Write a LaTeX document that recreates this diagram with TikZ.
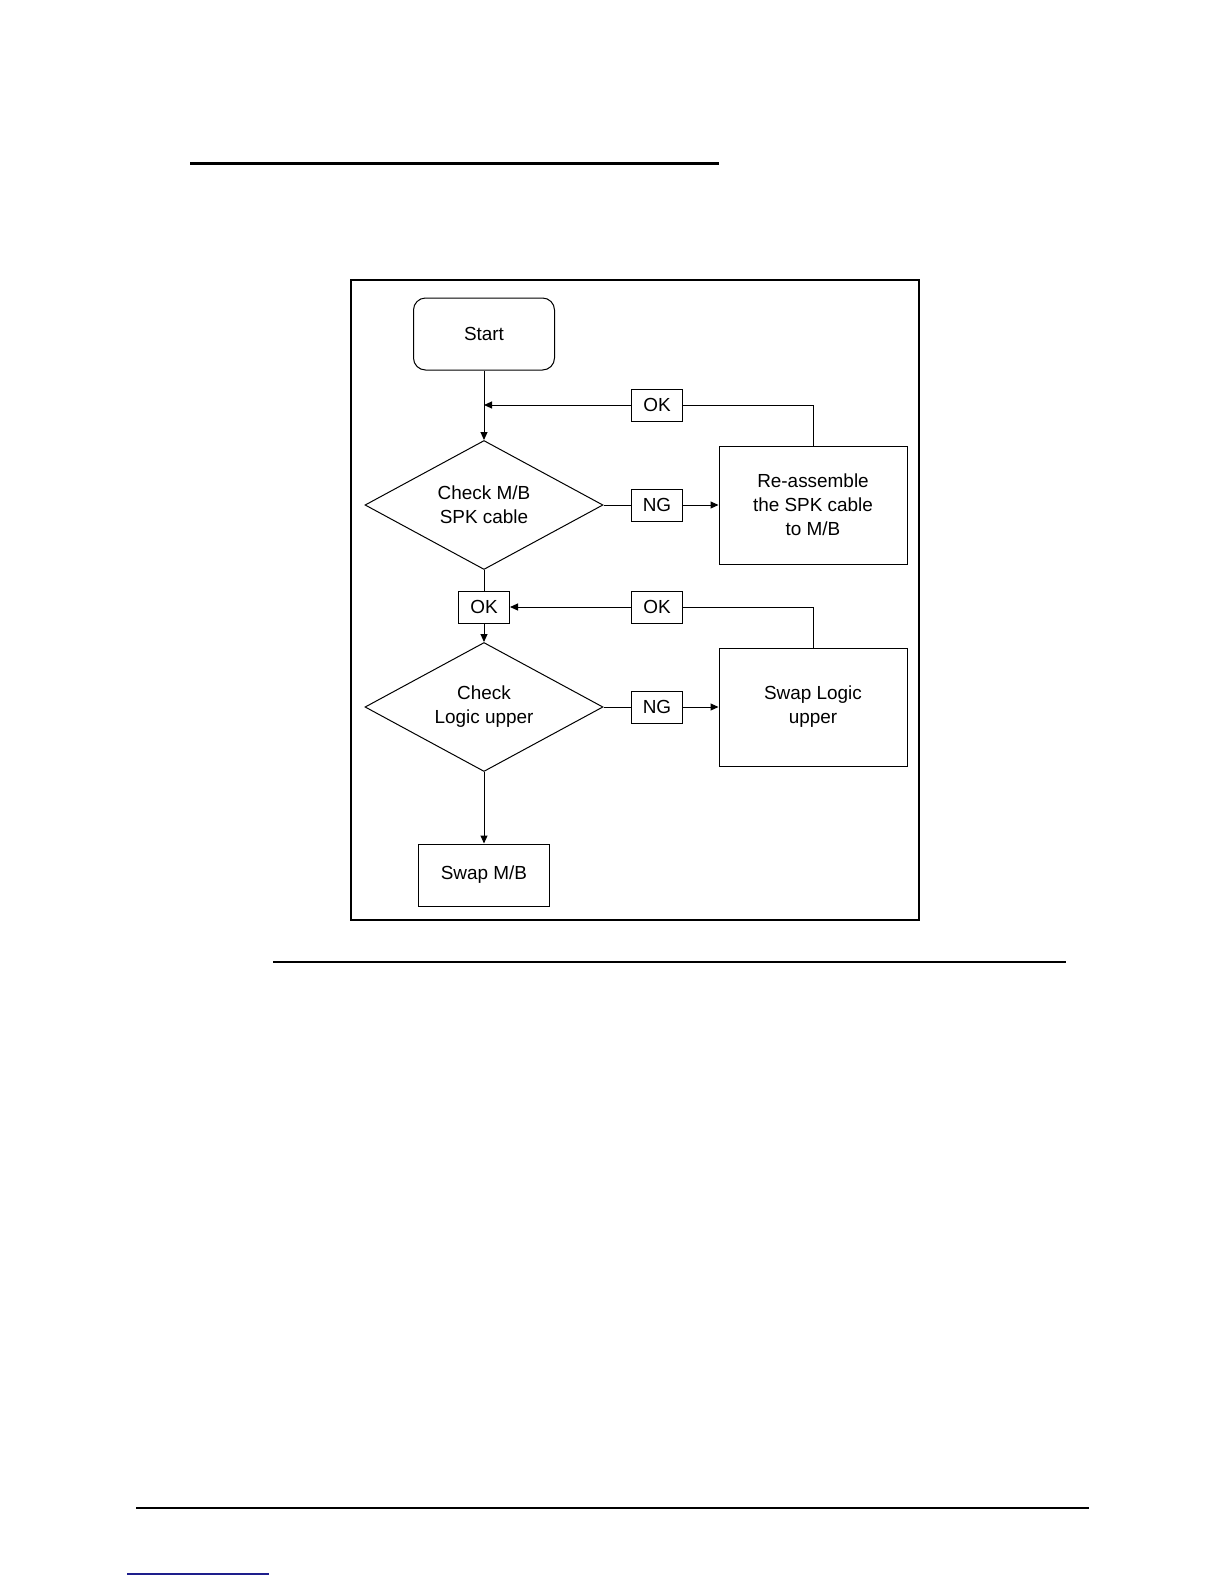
\documentclass[tikz,border=0pt]{standalone}
\usepackage{fontspec}
\setmainfont{Liberation Sans}
\usetikzlibrary{shapes.geometric, arrows.meta, positioning}
\definecolor{linkblue}{RGB}{30,30,140}

\begin{document}
\begin{tikzpicture}[
  x=0.5bp, y=-0.5bp,
  font=\fontsize{9.5}{12}\selectfont,
  line width=0.5bp,
  term/.style={draw, rounded corners=6bp, minimum width=70.5bp, minimum height=36bp, align=center},
  chk/.style={draw, diamond, aspect=1.85, minimum width=119bp, minimum height=64.5bp, inner sep=0pt, align=center},
  act/.style={draw, minimum width=94bp, minimum height=59bp, align=center},
  tag/.style={draw, minimum width=25.5bp, minimum height=16bp, inner sep=1pt},
  ark/.style={-{Triangle[length=4bp, width=3.5bp]}}
]
\useasboundingbox (0,0) rectangle (1224,1584);
% page rules
\draw[line width=1.5bp] (190,163) -- (719,163);
\draw[line width=1.2bp] (351,280) rectangle (919,920);
\draw[line width=0.6bp] (273,962) -- (1066,962);
\draw[line width=0.8bp] (136,1508) -- (1089,1508);
\draw[line width=0.8bp, linkblue] (127,1574) -- (269,1574);

\node[term] (start) at (484,334) {Start};
\node[chk] (chk1) at (484,505) {Check M/B\\SPK cable};
\node[tag] (ok1) at (657,405) {OK};
\node[tag] (ng1) at (657,505) {NG};
\node[act] (fix1) at (813,505) {Re-assemble\\the SPK cable\\to M/B};
\node[tag] (ok2) at (484,607) {OK};
\node[tag] (ok3) at (657,607) {OK};
\node[chk] (chk2) at (484,707) {Check\\Logic upper};
\node[tag] (ng2) at (657,707) {NG};
\node[act] (fix2) at (813,707) {Swap Logic\\upper};
\node[act, minimum width=65.5bp, minimum height=31bp] (swap) at (484,875) {Swap M/B};
\coordinate (j1) at (start.south |- ok1);

\draw[ark] (start.south) -- (chk1.north);
\draw[ark] (ok1.west) -- (j1);
\draw (fix1.north) |- (ok1.east);
\draw (chk1.east) -- (ng1.west);
\draw[ark] (ng1.east) -- (fix1.west);
\draw (chk1.south) -- (ok2.north);
\draw[ark] (ok2.south) -- (chk2.north);
\draw[ark] (ok3.west) -- (ok2.east);
\draw (fix2.north) |- (ok3.east);
\draw (chk2.east) -- (ng2.west);
\draw[ark] (ng2.east) -- (fix2.west);
\draw[ark] (chk2.south) -- (swap.north);
\end{tikzpicture}
\end{document}
